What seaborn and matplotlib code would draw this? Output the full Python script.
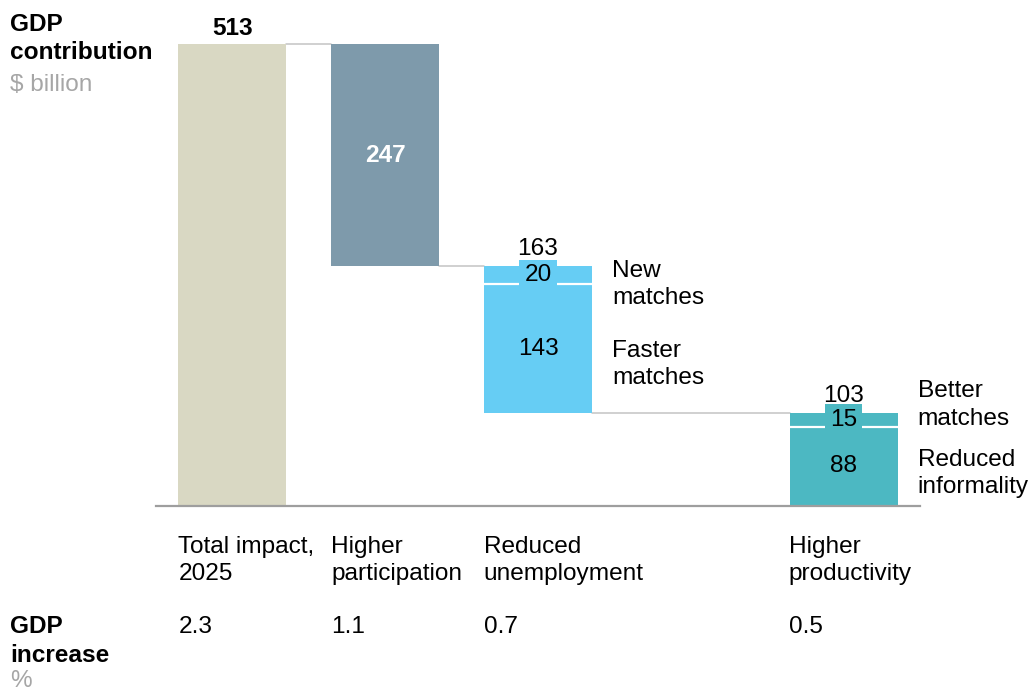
import matplotlib
matplotlib.use("Agg")
import matplotlib.pyplot as plt
import seaborn as sns
import pandas as pd

# ---- data ----
categories = ["Total impact,\n2025", "Higher\nparticipation", "Reduced\nunemployment", "Higher\nproductivity"]
gdp_contribution = [513, 247, 163, 103]          # $ billion
gdp_increase = [2.3, 1.1, 0.7, 0.5]              # %
unemployment_parts = [143, 20]                   # bottom -> top
unemployment_labels = ["Faster\nmatches", "New\nmatches"]
productivity_parts = [88, 15]                    # bottom -> top
productivity_labels = ["Reduced\ninformality", "Better\nmatches"]

colors = ["#D9D8C3", "#7E9AAB", "#66CDF4", "#4CB8C2"]

sns.set_theme(style="white")
plt.rcParams["font.family"] = ["Liberation Sans", "DejaVu Sans"]
FS = 17.6
LS = 1.33

fig = plt.figure(figsize=(10.30, 6.93), dpi=100)
ax = fig.add_axes([156 / 1030, 1 - 506 / 693, (920 - 156) / 1030, 0.7018])

slots = [0, 1, 2, 4]
width = 0.706
half = width / 2

# waterfall geometry: first bar is the total, the rest step down to zero
bottoms, tops = [0], [gdp_contribution[0]]
level = gdp_contribution[0]
for v in gdp_contribution[1:]:
    tops.append(level)
    level = level - v
    bottoms.append(level)

# segments: (slot, bottom, height, color)
segments = [(slots[0], 0, gdp_contribution[0], colors[0]),
            (slots[1], bottoms[1], gdp_contribution[1], colors[1])]
b = bottoms[2]
for p in unemployment_parts:
    segments.append((slots[2], b, p, colors[2]))
    b += p
b = bottoms[3]
for p in productivity_parts:
    segments.append((slots[3], b, p, colors[3]))
    b += p

for pos, bot, h, c in segments:
    df = pd.DataFrame({"x": [pos], "y": [h]})
    sns.barplot(data=df, x="x", y="y", native_scale=True, width=width,
                bottom=bot, color=c, saturation=1, ax=ax, linewidth=0, zorder=2)

ax.set_xlim(-0.5, 4.5)
ax.set_ylim(0, 540)
ax.set_xticks([])
ax.set_yticks([])
ax.set_xlabel("")
ax.set_ylabel("")
for s in ["top", "left", "right"]:
    ax.spines[s].set_visible(False)
ax.spines["bottom"].set_color("#9E9E9E")
ax.spines["bottom"].set_linewidth(1.6)

# connector lines between steps
for i in range(len(slots) - 1):
    lvl = tops[i + 1]
    ax.plot([slots[i] + half, slots[i + 1] - half], [lvl, lvl],
            color="#C4C4C4", lw=1.1, zorder=1)

# white separators inside stacked bars
for pos, parts, bot in [(slots[2], unemployment_parts, bottoms[2]),
                        (slots[3], productivity_parts, bottoms[3])]:
    y = bot + parts[0]
    ax.plot([pos - half, pos + half], [y, y], color="white", lw=1.6, zorder=3)

# value labels
ax.text(slots[0], tops[0] + 4, f"{gdp_contribution[0]}", ha="center", va="bottom",
        fontsize=FS, fontweight="bold", color="black")
ax.text(slots[1], bottoms[1] + gdp_contribution[1] / 2, f"{gdp_contribution[1]}",
        ha="center", va="center", fontsize=FS, fontweight="bold", color="white", zorder=4)

for k, (pos, parts, bot, total) in enumerate([
        (slots[2], unemployment_parts, bottoms[2], gdp_contribution[2]),
        (slots[3], productivity_parts, bottoms[3], gdp_contribution[3])]):
    c = colors[2 + k]
    # total above the stack
    ax.text(pos, bot + total + 7, f"{total}", ha="center", va="bottom",
            fontsize=FS, color="black", zorder=5)
    # lower segment value
    ax.text(pos, bot + parts[0] / 2, f"{parts[0]}", ha="center",
            va="center", fontsize=FS, color="black", zorder=5)
    # upper segment value with bar-coloured background
    ax.text(pos, bot + parts[0] + parts[1] / 2, f"{parts[1]}", ha="center", va="center",
            fontsize=FS, color="black", zorder=5,
            bbox=dict(boxstyle="square,pad=0.2", fc=c, ec="none"))

# side labels for the segments
side_y = {0: (157, 246), 1: (36, 112)}
for k, (pos, labels) in enumerate([(slots[2], unemployment_labels),
                                    (slots[3], productivity_labels)]):
    for lab, y in zip(labels, side_y[k]):
        ax.text(pos + half + 0.132, y, lab, ha="left", va="center",
                fontsize=FS, color="black", linespacing=LS)

# category names and GDP increase row
def fy(px):
    return 1 - px / 693

for pos, cat, inc in zip(slots, categories, gdp_increase):
    xf = (156 + (pos - half + 0.5) * 152.6) / 1030
    fig.text(xf, fy(560.5), cat, ha="left", va="center", fontsize=FS,
             color="black", linespacing=LS)
    fig.text(xf, fy(627), f"{inc}", ha="left", va="center", fontsize=FS, color="black")

# row headers
fig.text(10 / 1030, fy(38.5), "GDP\ncontribution", ha="left", va="center",
         fontsize=FS, fontweight="bold", color="black", linespacing=LS)
fig.text(10 / 1030, fy(85), "$ billion", ha="left", va="center", fontsize=FS, color="#A6A6A6")
fig.text(10 / 1030, fy(641), "GDP\nincrease", ha="left", va="center",
         fontsize=FS, fontweight="bold", color="black", linespacing=LS)
fig.text(10 / 1030, fy(681), "%", ha="left", va="center", fontsize=FS, color="#A6A6A6")

fig.savefig("out.png", dpi=100)
